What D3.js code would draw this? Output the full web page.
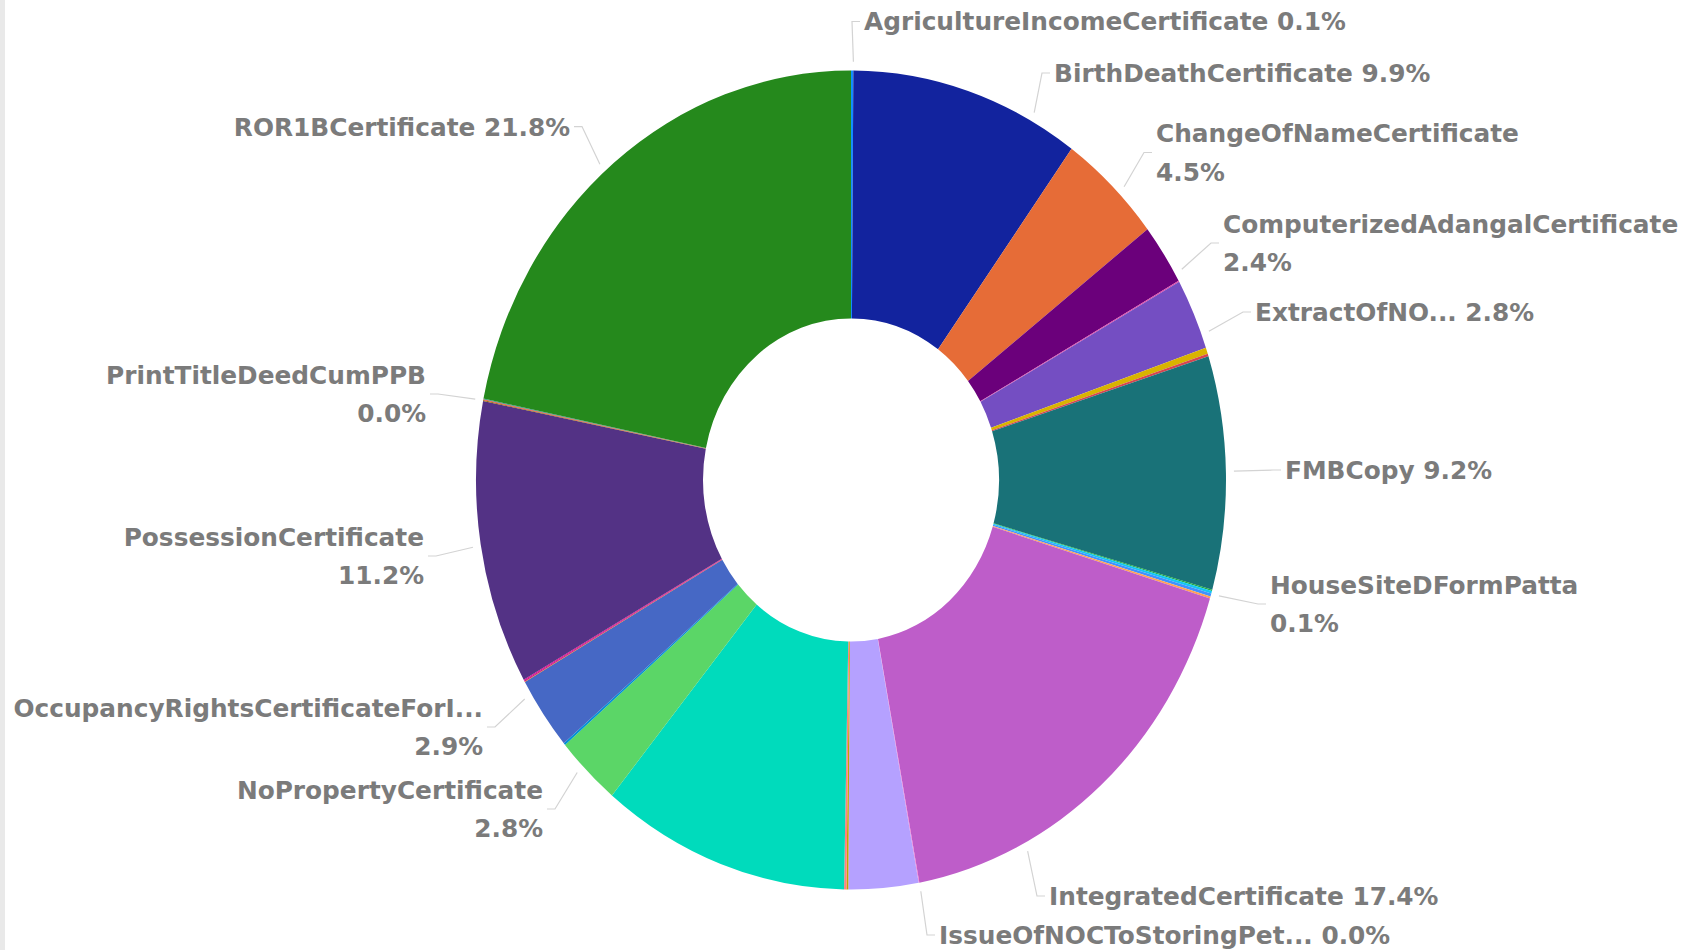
<!DOCTYPE html>
<html>
<head>
<meta charset="utf-8">
<script src="https://cdn.jsdelivr.net/npm/d3@7"></script>
<style>
  html, body { margin: 0; padding: 0; background: #fff; }
  svg { display: block; }
  .label { font-family: "DejaVu Sans", sans-serif; font-weight: bold; font-size: 24.8px; fill: #7b7b7b; }
</style>
</head>
<body>
<div id="chart"></div>
<script>
const width = 1683;
const height = 950;

// slices in drawing order (clockwise from 12 o'clock); "" = slice whose name is not shown
const categories = [
    'AgricultureIncomeCertificate', 'BirthDeathCertificate', 'ChangeOfNameCertificate',
    'ComputerizedAdangalCertificate', '', 'ExtractOfNO...', '', '', 'FMBCopy', '', '',
    'HouseSiteDFormPatta', '', 'IntegratedCertificate', 'IssueOfNOCToStoringPet...', '',
    '', '', '', 'NoPropertyCertificate', '', 'OccupancyRightsCertificateForI...', '', '', '',
    'PossessionCertificate', 'PrintTitleDeedCumPPB', '', '', 'ROR1BCertificate'
];
// share of total, in percent
const values = [
    0.1, 9.9, 4.5,
    2.4, 0.05, 2.8, 0.25, 0.1, 9.2, 0.05, 0.1,
    0.12, 0.08, 17.4, 0.03, 3.0,
    0.08, 0.1, 10.7, 2.8, 0.08, 2.9, 0.03, 0.03, 0.04,
    11.2, 0.03, 0.03, 0.03, 21.8
];
const colors = [
    '#118DFF', '#12239E', '#E66C37', '#6B007B', '#E044A7', '#744EC2', '#D9B300', '#D64550',
    '#197278', '#1AAB40', '#15C6F4', '#4092FF', '#FFA058', '#BE5DC9', '#F472D0', '#B5A1FF',
    '#C4A200', '#FF8080', '#00DBBC', '#5BD667', '#0091D5', '#4668C5', '#FF6300', '#99008A',
    '#EC008C', '#533285', '#99700A', '#FF4141', '#1F9A85', '#25891C'
];

// where the data labels sit (x = text edge next to the donut, y = centre of the label block)
const labelLayout = {
    'AgricultureIncomeCertificate': { x: 864, y: 21.5, wrap: false },
    'BirthDeathCertificate': { x: 1054, y: 73, wrap: false },
    'ChangeOfNameCertificate': { x: 1156, y: 152.5, wrap: true },
    'ComputerizedAdangalCertificate': { x: 1223, y: 243, wrap: true },
    'ExtractOfNO...': { x: 1255, y: 312, wrap: false },
    'FMBCopy': { x: 1285, y: 470, wrap: false },
    'HouseSiteDFormPatta': { x: 1270, y: 604, wrap: true },
    'IntegratedCertificate': { x: 1049, y: 896, wrap: false },
    'IssueOfNOCToStoringPet...': { x: 939, y: 935, wrap: false },
    'ROR1BCertificate': { x: 570, y: 126.6, wrap: false },
    'PrintTitleDeedCumPPB': { x: 426, y: 394, wrap: true },
    'PossessionCertificate': { x: 424, y: 556, wrap: true },
    'OccupancyRightsCertificateForI...': { x: 483, y: 727, wrap: true },
    'NoPropertyCertificate': { x: 543, y: 809, wrap: true }
};

const cx = 851, cy = 480;
const outerR = 375, innerR = 148;
const stretchY = 1.092;   // the donut is drawn a bit taller than wide
const lineGap = 38.5;

const svg = d3.select('#chart')
    .append('svg')
    .attr('width', width)
    .attr('height', height);

svg.append('rect')
    .attr('x', 0).attr('y', 0)
    .attr('width', 5).attr('height', height)
    .attr('fill', '#e9e9e9');

const slices = categories.map((name, i) => ({ name: name, value: values[i], color: colors[i] }));
const total = d3.sum(values);
const pct = d3.format('.1f');

const pie = d3.pie().sort(null).value(d => d.value);
const arc = d3.arc().innerRadius(innerR).outerRadius(outerR);
const arcs = pie(slices);

svg.append('g')
    .attr('transform', `translate(${cx},${cy}) scale(1,${stretchY})`)
    .selectAll('path')
    .data(arcs)
    .enter()
    .append('path')
    .attr('d', arc)
    .attr('fill', d => d.data.color);

// point on the (stretched) ring at angle a, radius r
function ringPoint(a, r) {
    return [cx + r * Math.sin(a), cy - r * stretchY * Math.cos(a)];
}

const labelled = arcs.filter(d => labelLayout[d.data.name]);

const leaders = svg.append('g');
const labels = svg.append('g');

labelled.forEach(d => {
    const lay = labelLayout[d.data.name];
    const side = lay.x > cx ? 1 : -1;
    // leader starts in the slice, at the angle closest to its label
    let a = Math.atan2(lay.x - cx, -(lay.y - cy) / stretchY);
    if (a < 0) a += 2 * Math.PI;
    a = Math.max(d.startAngle, Math.min(d.endAngle, a));
    const p0 = ringPoint(a, outerR + 8);
    const pts = [p0, [lay.x - side * 12, lay.y], [lay.x - side * 4, lay.y]];

    leaders.append('path')
        .attr('d', d3.line()(pts))
        .attr('fill', 'none')
        .attr('stroke', '#d3d3d3')
        .attr('stroke-width', 1.2);

    const valueText = pct(d.data.value / total * 100) + '%';
    const lines = lay.wrap ? [d.data.name, valueText] : [d.data.name + ' ' + valueText];
    const top = lay.y - (lines.length - 1) * lineGap / 2;

    lines.forEach((t, k) => {
        labels.append('text')
            .attr('class', 'label')
            .attr('x', lay.x)
            .attr('y', top + k * lineGap)
            .attr('dy', '0.36em')
            .attr('text-anchor', side > 0 ? 'start' : 'end')
            .text(t);
    });
});
</script>
</body>
</html>
